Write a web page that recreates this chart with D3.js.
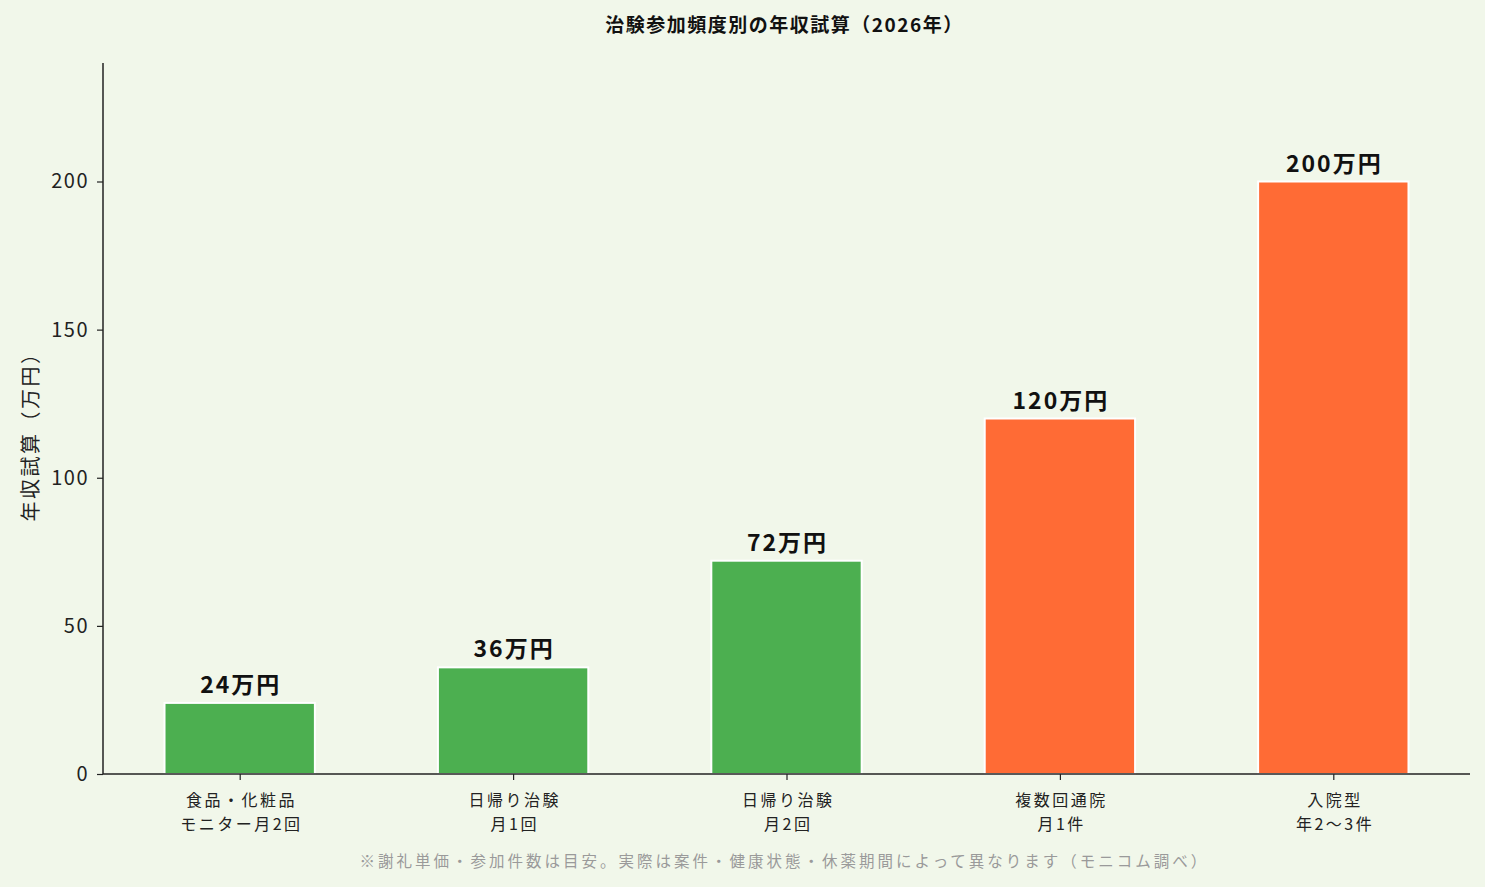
<!DOCTYPE html>
<html><head><meta charset="utf-8">
<script src="https://cdn.jsdelivr.net/npm/d3@7"></script>
<style>
html,body{margin:0;padding:0;background:#f1f7ea;}
svg{display:block;font-family:"Noto Sans CJK JP","Noto Sans",sans-serif;}
</style></head><body>
<svg id="c" width="1485" height="887"></svg>
<script>
const categories = ["食品・化粧品\nモニター月2回","日帰り治験\n月1回","日帰り治験\n月2回","複数回通院\n月1件","入院型\n年2〜3件"];
const values = [24, 36, 72, 120, 200];
const barColors = ["#4caf50","#4caf50","#4caf50","#ff6b35","#ff6b35"];
const valueLabels = ["24万円","36万円","72万円","120万円","200万円"];
const yTicks = [0, 50, 100, 150, 200];
const title = "治験参加頻度別の年収試算（2026年）";
const yLabel = "年収試算（万円）";
const note = "※謝礼単価・参加件数は目安。実際は案件・健康状態・休薬期間によって異なります（モニコム調べ）";

const svg = d3.select("#c");
const L = 103, R = 1470, T = 63, B = 774;
const x = d3.scaleLinear().domain([-0.5, categories.length - 0.5]).range([L, R]);
const y = d3.scaleLinear().domain([0, 240]).range([B, T]);
const bw = 0.55;

svg.append("rect").attr("width",1485).attr("height",887).attr("fill","#f1f7ea");

svg.selectAll("rect.bar").data(values).join("rect").attr("class","bar")
  .attr("x",(d,i)=>x(i-bw/2)).attr("width",x(bw)-x(0))
  .attr("y",d=>y(d)).attr("height",d=>y(0)-y(d))
  .attr("fill",(d,i)=>barColors[i]).attr("stroke","#fff").attr("stroke-width",2);

svg.selectAll("text.val").data(values).join("text").attr("class","val")
  .attr("x",(d,i)=>x(i)+1).attr("y",d=>y(d)-10)
  .attr("text-anchor","middle").attr("font-size",23).attr("font-weight","bold")
  .attr("letter-spacing",2).attr("fill","#111")
  .text((d,i)=>valueLabels[i]);

// y axis
const ya = svg.append("g").attr("transform",`translate(${L},0)`)
  .call(d3.axisLeft(y).tickValues(yTicks).tickSize(6).tickPadding(8));
ya.attr("font-family",null).attr("font-size",null);
ya.select(".domain").attr("stroke","#222").attr("stroke-width",1.5).attr("d",`M0,${T}V${B}`);
ya.selectAll(".tick line").attr("stroke","#222").attr("stroke-width",1.2);
ya.selectAll(".tick text").attr("font-size",20).attr("letter-spacing",1.5).attr("fill","#222");

// x axis
const xa = svg.append("g").attr("transform",`translate(0,${B})`)
  .call(d3.axisBottom(x).tickValues(d3.range(categories.length)).tickSize(6).tickFormat(()=>"") );
xa.attr("font-family",null).attr("font-size",null);
xa.select(".domain").attr("stroke","#222").attr("stroke-width",1.5).attr("d",`M${L},0H${R}`);
xa.selectAll(".tick line").attr("stroke","#222").attr("stroke-width",1.2);
xa.selectAll(".tick").each(function(d){
  const g = d3.select(this);
  categories[d].split("\n").forEach((s,k)=>{
    g.append("text").attr("fill","#222").attr("font-size",16)
      .attr("letter-spacing",2.5).attr("text-anchor","middle")
      .attr("x",1.2).attr("y",32+k*23.5).text(s);
  });
});

svg.append("text").attr("x",(L+R)/2-2).attr("y",32).attr("text-anchor","middle")
  .attr("font-size",19).attr("letter-spacing",1.5).attr("font-weight","bold").attr("fill","#111").text(title);

svg.append("text").attr("transform",`translate(29,${(T+B)/2+13}) rotate(-90)`)
  .attr("text-anchor","middle").attr("dominant-baseline","central")
  .attr("font-size",20).attr("letter-spacing",2.5).attr("fill","#222").text(yLabel);

svg.append("text").attr("x",(L+R)/2-2).attr("y",867).attr("text-anchor","middle")
  .attr("font-size",15.5).attr("letter-spacing",3).attr("fill","#9a9a9a").text(note);
</script>
</body></html>
